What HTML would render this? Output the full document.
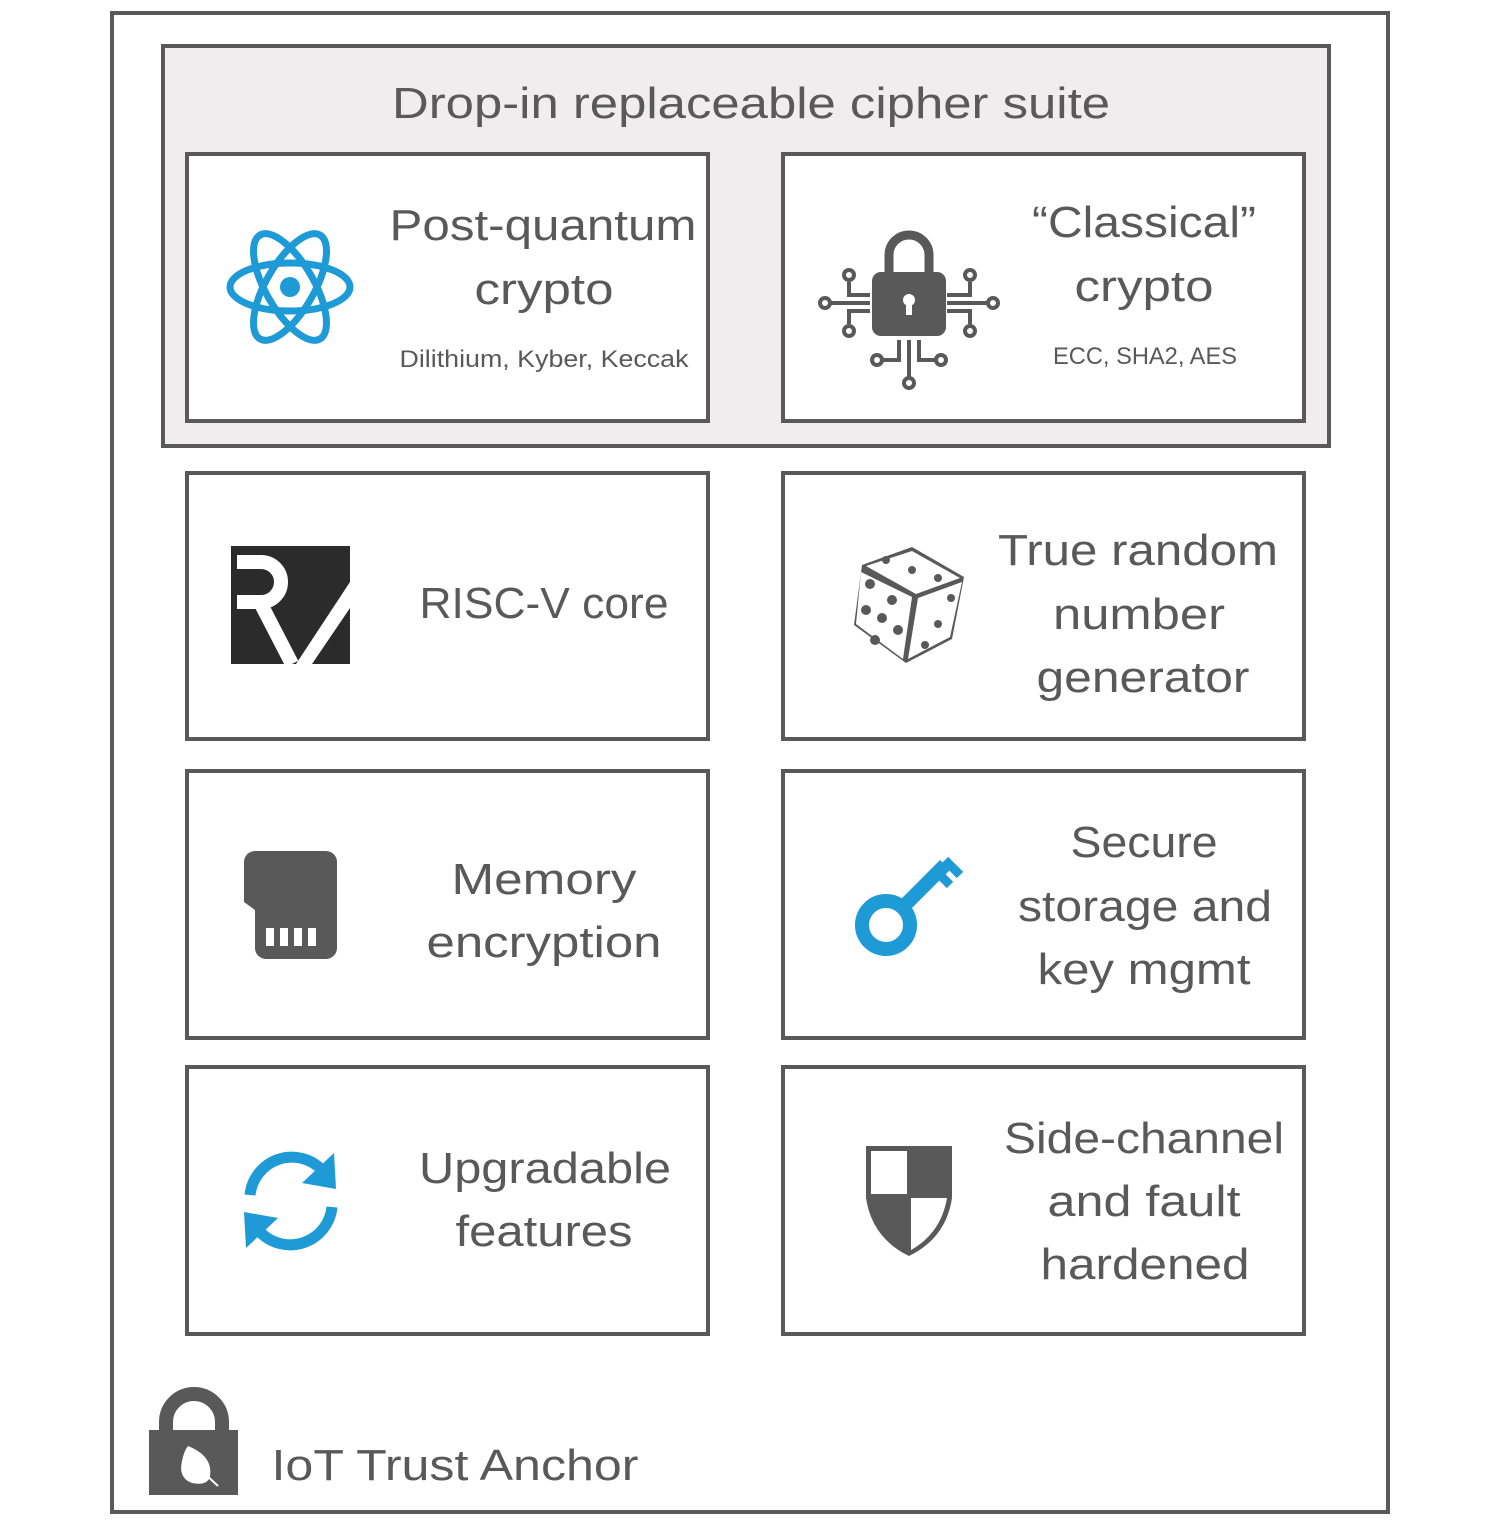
<!DOCTYPE html>
<html><head><meta charset="utf-8"><style>
html,body{margin:0;padding:0;background:#fff;}
svg{display:block;}
text{font-family:"Liberation Sans",sans-serif;fill:#595959;}
</style></head><body>
<svg width="1500" height="1532" viewBox="0 0 1500 1532" xmlns="http://www.w3.org/2000/svg">
<rect x="112" y="13" width="1276" height="1499" fill="#fff" stroke="#595959" stroke-width="4"/>
<rect x="163" y="46" width="1166" height="400" fill="#efeded" stroke="#595959" stroke-width="4"/>
<text x="751" y="118" font-size="44" text-anchor="middle" textLength="718" lengthAdjust="spacingAndGlyphs">Drop-in replaceable cipher suite</text>
<g fill="#fff" stroke="#595959" stroke-width="4">
<rect x="187" y="154" width="521" height="267"/>
<rect x="783" y="154" width="521" height="267"/>
<rect x="187" y="473" width="521" height="266"/>
<rect x="783" y="473" width="521" height="266"/>
<rect x="187" y="771" width="521" height="267"/>
<rect x="783" y="771" width="521" height="267"/>
<rect x="187" y="1067" width="521" height="267"/>
<rect x="783" y="1067" width="521" height="267"/>
</g>
<g font-size="44" text-anchor="middle" lengthAdjust="spacingAndGlyphs">
<text x="543" y="240" textLength="307" lengthAdjust="spacingAndGlyphs">Post-quantum</text>
<text x="544" y="304" textLength="139" lengthAdjust="spacingAndGlyphs">crypto</text>
<text x="544" y="367" font-size="24" textLength="289" lengthAdjust="spacingAndGlyphs">Dilithium, Kyber, Keccak</text>
<text x="1144" y="237" textLength="224" lengthAdjust="spacingAndGlyphs">“Classical”</text>
<text x="1144" y="301" textLength="139" lengthAdjust="spacingAndGlyphs">crypto</text>
<text x="1145" y="364" font-size="24" textLength="184" lengthAdjust="spacingAndGlyphs">ECC, SHA2, AES</text>
<text x="544" y="618" textLength="249" lengthAdjust="spacingAndGlyphs">RISC-V core</text>
<text x="1138" y="565" textLength="280" lengthAdjust="spacingAndGlyphs">True random</text>
<text x="1139" y="629" textLength="172" lengthAdjust="spacingAndGlyphs">number</text>
<text x="1143" y="692" textLength="213" lengthAdjust="spacingAndGlyphs">generator</text>
<text x="544" y="894" textLength="185" lengthAdjust="spacingAndGlyphs">Memory</text>
<text x="544" y="957" textLength="235" lengthAdjust="spacingAndGlyphs">encryption</text>
<text x="1144" y="857" textLength="147" lengthAdjust="spacingAndGlyphs">Secure</text>
<text x="1145" y="921" textLength="254" lengthAdjust="spacingAndGlyphs">storage and</text>
<text x="1144" y="984" textLength="213" lengthAdjust="spacingAndGlyphs">key mgmt</text>
<text x="545" y="1183" textLength="252" lengthAdjust="spacingAndGlyphs">Upgradable</text>
<text x="544" y="1246" textLength="177" lengthAdjust="spacingAndGlyphs">features</text>
<text x="1144" y="1153" textLength="280" lengthAdjust="spacingAndGlyphs">Side-channel</text>
<text x="1144" y="1216" textLength="193" lengthAdjust="spacingAndGlyphs">and fault</text>
<text x="1145" y="1279" textLength="209" lengthAdjust="spacingAndGlyphs">hardened</text>
<text x="455" y="1480" textLength="367" lengthAdjust="spacingAndGlyphs">IoT Trust Anchor</text>
</g>
<!-- atom -->
<g fill="none" stroke="#1e9ad6" stroke-width="7">
<ellipse cx="290" cy="287" rx="60" ry="24"/>
<ellipse cx="290" cy="287" rx="60" ry="24" transform="rotate(60 290 287)"/>
<ellipse cx="290" cy="287" rx="60" ry="24" transform="rotate(-60 290 287)"/>
</g>
<circle cx="290" cy="287" r="10" fill="#1e9ad6"/>
<!-- circuit lock -->
<g stroke="#595959" stroke-width="4" fill="none">
<path d="M889 275 v-20 a20 20 0 0 1 40 0 v20" stroke-width="9"/>
<path d="M828 303 h42 M849 282 v13 h21 M849 324 v-13 h21 M947 303 h42 M970 282 v13 h-23 M970 324 v-13 h-23 M909 340 v38 M899 340 v20 h-18 M919 340 v20 h18"/>
<circle cx="825" cy="303" r="5"/><circle cx="849" cy="275" r="5"/><circle cx="849" cy="331" r="5"/>
<circle cx="993" cy="303" r="5"/><circle cx="970" cy="275" r="5"/><circle cx="970" cy="331" r="5"/>
<circle cx="909" cy="383" r="5"/><circle cx="877" cy="360" r="5"/><circle cx="941" cy="360" r="5"/>
</g>
<rect x="872" y="272" width="74" height="64" rx="9" fill="#595959"/>
<circle cx="909" cy="300" r="6" fill="#fff"/><rect x="906" y="300" width="6" height="15" fill="#fff"/>
<!-- RISC-V -->
<rect x="231" y="546" width="119" height="118" fill="#2b2b2b"/>
<path d="M231 562 h30 a20 20 0 0 1 0 40 h-30" fill="none" stroke="#fff" stroke-width="14"/>
<path d="M262 606 l30 58" stroke="#fff" stroke-width="14"/>
<path d="M296 664 l54 -82 v26 l-38 56 z" fill="#fff"/>
<rect x="231" y="546" width="6" height="118" fill="#2b2b2b"/>
<!-- dice -->
<path d="M862 565 l50 -18 l52 30 l-12 62 l-46 24 l-52 -38 z" fill="#595959"/>
<path d="M866 566 l46 -15 l48 27 l-44 16 z" fill="#fff"/>
<path d="M918 598 l44 -16 l-12 55 l-42 22 z" fill="#fff"/>
<path d="M861 572 l51 25 l-9 62 l-47 -35 z" fill="#fff"/>
<g fill="#595959">
<circle cx="886" cy="560" r="4"/><circle cx="912" cy="570" r="4"/><circle cx="938" cy="578" r="4"/>
<circle cx="951" cy="598" r="4"/><circle cx="938" cy="624" r="4"/><circle cx="925" cy="645" r="4"/>
<circle cx="870" cy="584" r="5"/><circle cx="892" cy="600" r="5"/><circle cx="866" cy="610" r="5"/><circle cx="882" cy="618" r="5"/><circle cx="898" cy="630" r="5"/><circle cx="875" cy="640" r="5"/>
</g>
<!-- memory card -->
<path d="M256 851 h70 a11 11 0 0 1 11 11 v86 a11 11 0 0 1 -11 11 h-60 a11 11 0 0 1 -11 -11 v-38 l-11 -8 v-40 a11 11 0 0 1 11 -11 z" fill="#595959"/>
<g fill="#fff"><rect x="266" y="928" width="8" height="18"/><rect x="280" y="928" width="8" height="18"/><rect x="294" y="928" width="8" height="18"/><rect x="308" y="928" width="8" height="18"/></g>
<!-- key -->
<circle cx="886" cy="925" r="24" fill="none" stroke="#1e9ad6" stroke-width="14"/>
<path d="M900 910 l45 -45" stroke="#1e9ad6" stroke-width="14"/>
<path d="M935 870 l15 15 M945 860 l15 15" stroke="#1e9ad6" stroke-width="9"/>
<!-- refresh -->
<g fill="none" stroke="#1e9ad6" stroke-width="11">
<path d="M250 1195 a42 42 0 0 1 72 -25"/>
<path d="M332 1207 a42 42 0 0 1 -72 25"/>
</g>
<path d="M334 1153 l2 36 l-34 -6 z" fill="#1e9ad6"/>
<path d="M246 1248 l-2 -36 l34 6 z" fill="#1e9ad6"/>
<!-- shield -->
<path d="M866 1146 h86 v52 q-6 40 -43 58 q-37 -18 -43 -58 z" fill="#595959"/>
<rect x="871" y="1151" width="36" height="43" fill="#fff"/>
<path d="M911 1198 h36 q-6 35 -36 52 z" fill="#fff"/>
<!-- lock leaf -->
<path d="M166 1440 v-18 a28 28 0 0 1 56 0 v18" fill="none" stroke="#595959" stroke-width="14"/>
<rect x="149" y="1430" width="89" height="65" fill="#595959"/>
<path d="M188 1446 q25 10 22 30 q-2 10 -18 7 q-14 -5 -10 -22 q2 -10 6 -15 z" fill="#fff"/>
<path d="M190 1460 l28 26" stroke="#fff" stroke-width="2"/>
</svg>
</body></html>
